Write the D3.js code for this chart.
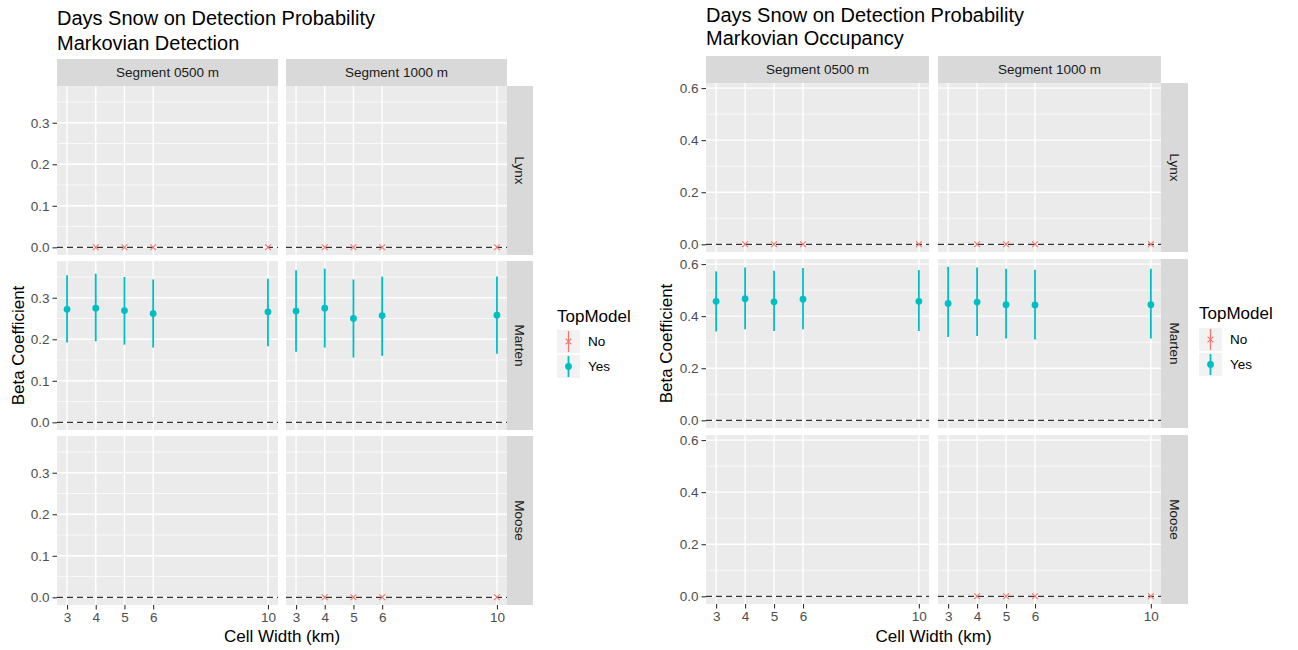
<!DOCTYPE html>
<html>
<head>
<meta charset="utf-8">
<script src="https://cdn.jsdelivr.net/npm/d3@7"></script>
<style>
  body { margin: 0; background: #fff; }
  svg { display: block; }
  text { font-family: "Liberation Sans", Arial, sans-serif; }
</style>
</head>
<body>
<svg id="chart" width="1298" height="650"></svg>
<script>
// ---- shared categories ----
const cellWidths = [3, 4, 5, 6, 10];
const segments = ["Segment 0500 m", "Segment 1000 m"];
const speciesRows = ["Lynx", "Marten", "Moose"];
const topModelLevels = ["No", "Yes"];

// ---- Markovian detection: Marten estimates and intervals ----
const detMarten0500   = [0.272, 0.275, 0.269, 0.262, 0.266];
const detMarten0500Lo = [0.192, 0.195, 0.187, 0.180, 0.183];
const detMarten0500Hi = [0.354, 0.358, 0.350, 0.344, 0.346];
const detMarten1000   = [0.268, 0.275, 0.250, 0.257, 0.258];
const detMarten1000Lo = [0.170, 0.180, 0.156, 0.160, 0.165];
const detMarten1000Hi = [0.366, 0.370, 0.344, 0.351, 0.351];
// cell widths where days-snow was not in the top model (beta = 0)
const detLynxNo0500  = [4, 5, 6, 10];
const detLynxNo1000  = [4, 5, 6, 10];
const detMooseNo0500 = [];
const detMooseNo1000 = [4, 5, 6, 10];
const detYTicks = [0, 0.1, 0.2, 0.3];

// ---- Markovian occupancy: Marten estimates and intervals ----
const occMarten0500   = [0.457, 0.467, 0.455, 0.465, 0.457];
const occMarten0500Lo = [0.341, 0.350, 0.343, 0.350, 0.343];
const occMarten0500Hi = [0.572, 0.587, 0.574, 0.585, 0.577];
const occMarten1000   = [0.449, 0.454, 0.444, 0.443, 0.444];
const occMarten1000Lo = [0.320, 0.324, 0.314, 0.310, 0.314];
const occMarten1000Hi = [0.590, 0.587, 0.582, 0.578, 0.582];
const occLynxNo0500  = [4, 5, 6, 10];
const occLynxNo1000  = [4, 5, 6, 10];
const occMooseNo0500 = [];
const occMooseNo1000 = [4, 5, 6, 10];
const occYTicks = [0, 0.2, 0.4, 0.6];

const colNo = "#F8766D", colYes = "#00BFC4";
const FONT = "Liberation Sans, Arial, sans-serif";
const svg = d3.select("#chart");

function buildRows(yes, no) {
  const rows = [];
  segments.forEach((seg, si) => {
    const [est, lo, hi] = yes[si];
    cellWidths.forEach((w, i) => rows.push({ sp: "Marten", seg, x: w, y: est[i], lo: lo[i], hi: hi[i], top: "Yes" }));
  });
  no.forEach(n => n.widths.forEach(w => rows.push({ sp: n.sp, seg: segments[n.si], x: w, y: 0, lo: 0, hi: 0, top: "No" })));
  return rows;
}

function cross(sel, cx, cy, s, col) {
  sel.append("path").attr("d", `M${cx - s},${cy - s}L${cx + s},${cy + s}M${cx - s},${cy + s}L${cx + s},${cy - s}`)
    .attr("stroke", col).attr("stroke-width", 1.1).attr("fill", "none");
}

function drawChart(cfg) {
  const g = svg.append("g");
  const data = cfg.rows;
  const nRows = speciesRows.length;
  const ph = (cfg.bottom - cfg.top - cfg.gap * (nRows - 1)) / nRows;
  const pw = cfg.pw;

  // 5% expansion on both scales
  const yMin = Math.min(0, d3.min(data, d => d.lo)), yMax = d3.max(data, d => d.hi);
  const yPad = (yMax - yMin) * 0.05;
  const xExt = d3.extent(cellWidths), xPad = (xExt[1] - xExt[0]) * 0.05;
  const step = cfg.yTicks[1] - cfg.yTicks[0];
  const yMinor = cfg.yTicks.map(t => t + step / 2).concat([cfg.yTicks[0] - step / 2])
    .filter(t => t >= yMin - yPad && t <= yMax + yPad);

  // title
  cfg.title.forEach((line, i) => g.append("text").attr("x", cfg.x0s[0]).attr("y", cfg.titleY[i])
    .attr("font-size", 20).attr("fill", "#000").text(line));

  speciesRows.forEach((sp, r) => {
    const py = cfg.top + r * (ph + cfg.gap);
    const y = d3.scaleLinear().domain([yMin - yPad, yMax + yPad]).range([py + ph, py]);

    segments.forEach((seg, c) => {
      const px = cfg.x0s[c];
      const x = d3.scaleLinear().domain([xExt[0] - xPad, xExt[1] + xPad]).range([px, px + pw]);
      const p = g.append("g");
      p.append("rect").attr("x", px).attr("y", py).attr("width", pw).attr("height", ph).attr("fill", "#EBEBEB");
      p.selectAll(".mn").data(yMinor).join("line")
        .attr("x1", px).attr("x2", px + pw).attr("y1", d => y(d)).attr("y2", d => y(d))
        .attr("stroke", "#fff").attr("stroke-width", 0.7);
      p.selectAll(".mj").data(cfg.yTicks).join("line")
        .attr("x1", px).attr("x2", px + pw).attr("y1", d => y(d)).attr("y2", d => y(d))
        .attr("stroke", "#fff").attr("stroke-width", 1.4);
      p.selectAll(".vx").data(cellWidths).join("line")
        .attr("x1", d => x(d)).attr("x2", d => x(d)).attr("y1", py).attr("y2", py + ph)
        .attr("stroke", "#fff").attr("stroke-width", 1.4);
      // reference line at zero
      p.append("line").attr("x1", px).attr("x2", px + pw).attr("y1", y(0)).attr("y2", y(0))
        .attr("stroke", "#333").attr("stroke-width", 1.3).attr("stroke-dasharray", "6,4");

      const pts = data.filter(d => d.sp === sp && d.seg === seg);
      p.selectAll(".eb").data(pts.filter(d => d.top === "Yes")).join("line")
        .attr("x1", d => x(d.x)).attr("x2", d => x(d.x)).attr("y1", d => y(d.lo)).attr("y2", d => y(d.hi))
        .attr("stroke", colYes).attr("stroke-width", 1.8);
      p.selectAll(".pt").data(pts.filter(d => d.top === "Yes")).join("circle")
        .attr("cx", d => x(d.x)).attr("cy", d => y(d.y)).attr("r", 3.4).attr("fill", colYes);
      pts.filter(d => d.top === "No").forEach(d => cross(p, x(d.x), y(d.y), 2.9, colNo));

      // top strips
      if (r === 0) {
        g.append("rect").attr("x", px).attr("y", cfg.stripTop).attr("width", pw).attr("height", cfg.top - cfg.stripTop).attr("fill", "#D9D9D9");
        g.append("text").attr("x", px + pw / 2).attr("y", (cfg.stripTop + cfg.top) / 2).attr("dy", "0.35em")
          .attr("text-anchor", "middle").attr("font-size", 13.5).attr("fill", "#1A1A1A").text(seg);
      }
      // bottom axis
      if (r === nRows - 1) {
        const ax = g.append("g").attr("transform", `translate(0,${py + ph})`)
          .call(d3.axisBottom(x).tickValues(cellWidths).tickSize(4.5).tickPadding(3).tickFormat(d3.format("d")));
        ax.select(".domain").remove();
        ax.selectAll(".tick line").attr("stroke", "#333").attr("stroke-width", 1.1);
        ax.selectAll(".tick text").attr("fill", "#4D4D4D").attr("font-size", 13.5).attr("font-family", FONT);
      }
    });

    // right strip
    const sx = cfg.x0s[1] + pw;
    g.append("rect").attr("x", sx).attr("y", py).attr("width", cfg.stripW).attr("height", ph).attr("fill", "#D9D9D9");
    g.append("text").attr("transform", `translate(${sx + cfg.stripW / 2},${py + ph / 2}) rotate(90)`)
      .attr("dy", "0.35em").attr("text-anchor", "middle").attr("font-size", 13.5).attr("fill", "#1A1A1A").text(sp);

    // left axis
    const ay = g.append("g").attr("transform", `translate(${cfg.x0s[0]},0)`)
      .call(d3.axisLeft(y).tickValues(cfg.yTicks).tickSize(4.5).tickPadding(3).tickFormat(d3.format(".1f")));
    ay.select(".domain").remove();
    ay.selectAll(".tick line").attr("stroke", "#333").attr("stroke-width", 1.1);
    ay.selectAll(".tick text").attr("fill", "#4D4D4D").attr("font-size", 13.5).attr("font-family", FONT);
  });

  // axis titles
  g.append("text").attr("x", (cfg.x0s[0] + cfg.x0s[1] + pw) / 2).attr("y", cfg.xTitleY)
    .attr("text-anchor", "middle").attr("font-size", 17).attr("fill", "#000").text("Cell Width (km)");
  g.append("text").attr("transform", `translate(${cfg.yTitleX},${(cfg.top + cfg.bottom) / 2}) rotate(-90)`)
    .attr("text-anchor", "middle").attr("dy", "0.35em").attr("font-size", 17).attr("fill", "#000").text("Beta Coefficient");

  // legend
  const lg = g.append("g").attr("transform", `translate(${cfg.legendX},0)`);
  lg.append("text").attr("x", 0).attr("y", cfg.legendTitleY).attr("font-size", 17).attr("fill", "#000").text("TopModel");
  const key = 23;
  topModelLevels.forEach((lvl, i) => {
    const ky = cfg.keyTop + i * (key + 2);
    lg.append("rect").attr("x", 0).attr("y", ky).attr("width", key).attr("height", key).attr("fill", "#F2F2F2");
    const cx = key / 2, cy = ky + key / 2;
    const col = lvl === "No" ? colNo : colYes;
    lg.append("line").attr("x1", cx).attr("x2", cx).attr("y1", ky + 1).attr("y2", ky + key - 1)
      .attr("stroke", col).attr("stroke-width", lvl === "No" ? 1.3 : 1.8);
    if (lvl === "No") cross(lg, cx, cy, 2.9, col);
    else lg.append("circle").attr("cx", cx).attr("cy", cy).attr("r", 3.4).attr("fill", col);
    lg.append("text").attr("x", key + 8).attr("y", cy).attr("dy", "0.35em").attr("font-size", 13.5)
      .attr("fill", "#000").text(lvl);
  });
}

drawChart({
  title: ["Days Snow on Detection Probability", "Markovian Detection"],
  rows: buildRows(
    [[detMarten0500, detMarten0500Lo, detMarten0500Hi], [detMarten1000, detMarten1000Lo, detMarten1000Hi]],
    [{ sp: "Lynx", si: 0, widths: detLynxNo0500 }, { sp: "Lynx", si: 1, widths: detLynxNo1000 },
     { sp: "Moose", si: 0, widths: detMooseNo0500 }, { sp: "Moose", si: 1, widths: detMooseNo1000 }]),
  yTicks: detYTicks,
  x0s: [57, 286], pw: 221, stripW: 26, top: 86, bottom: 605, gap: 6, stripTop: 59,
  titleY: [25, 50], legendX: 557, legendTitleY: 322, keyTop: 330,
  yTitleX: 18, xTitleY: 642
});

drawChart({
  title: ["Days Snow on Detection Probability", "Markovian Occupancy"],
  rows: buildRows(
    [[occMarten0500, occMarten0500Lo, occMarten0500Hi], [occMarten1000, occMarten1000Lo, occMarten1000Hi]],
    [{ sp: "Lynx", si: 0, widths: occLynxNo0500 }, { sp: "Lynx", si: 1, widths: occLynxNo1000 },
     { sp: "Moose", si: 0, widths: occMooseNo0500 }, { sp: "Moose", si: 1, widths: occMooseNo1000 }]),
  yTicks: occYTicks,
  x0s: [706, 938], pw: 223, stripW: 27, top: 83, bottom: 604, gap: 7, stripTop: 56,
  titleY: [22, 45], legendX: 1199, legendTitleY: 319, keyTop: 328,
  yTitleX: 666, xTitleY: 642
});
</script>
</body>
</html>
